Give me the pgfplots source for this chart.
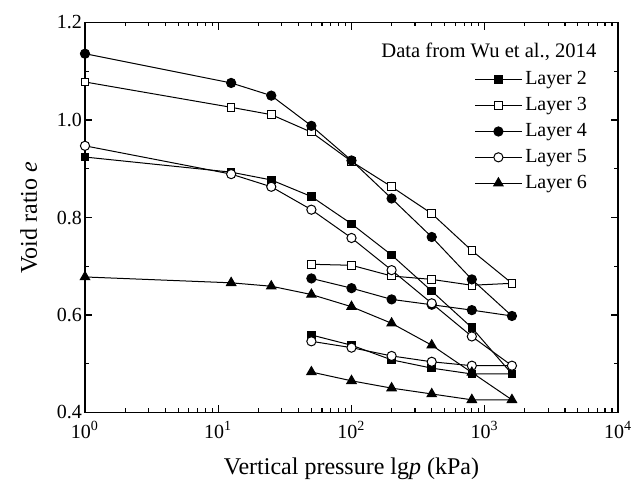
\documentclass[border=0pt]{standalone}
\usepackage{fontspec}
\setmainfont{Liberation Serif}
\usepackage{pgfplots}
\pgfplotsset{compat=1.18}

\begin{document}
\begin{tikzpicture}
\begin{axis}[
    scale only axis,
    width=266.5pt,
    height=195pt,
    xmode=log,
    xmin=1, xmax=10000,
    ymin=0.4, ymax=1.2,
    xtick={1,10,100,1000,10000},
    xticklabels={10\textsuperscript{0},10\textsuperscript{1},10\textsuperscript{2},10\textsuperscript{3},10\textsuperscript{4}},
    ytick={0.4,0.6,0.8,1.0,1.2},
    minor ytick={0.5,0.7,0.9,1.1},
    yticklabel style={xshift=2pt,/pgf/number format/.cd,fixed,fixed zerofill,precision=1,assume math mode=true},
    xticklabel style={yshift=-1pt},
    tick align=inside,
    major tick length=3.6pt,
    minor tick length=2pt,
    axis line style={line width=0.8pt},
    every tick/.style={black,line width=0.6pt},
    tick label style={font=\fontsize{10}{12}\selectfont},
    label style={font=\fontsize{12}{14}\selectfont},
    xlabel={Vertical pressure lg\textit{p} (kPa)},
    ylabel={Void ratio \textit{e}},
    xlabel style={yshift=-3pt},
    ylabel style={yshift=3pt},
    legend style={at={(axis description cs:0.948,0.883)}, anchor=north east,
        draw=none, fill=none, font=\fontsize{10}{12}\selectfont,
        row sep=1.85pt, inner sep=0pt, nodes={inner sep=1.5pt}},
    legend cell align=left,
    legend image code/.code={\draw[mark repeat=2,mark phase=2] plot coordinates {(0cm,0cm) (0.41cm,0cm) (0.82cm,0cm)};},
    every axis plot/.append style={black, line width=0.5pt},
]
\addplot[mark=square*, mark size=1.9pt, mark options={fill=black}] coordinates {
(1,0.924)(12.5,0.893)(25,0.877)(50,0.843)(100,0.787)(200,0.723)(400,0.649)(800,0.574)(1600,0.479)
(800,0.479)(400,0.491)(200,0.508)(100,0.538)(50,0.559)};
\addlegendentry{Layer 2}
\addplot[mark=square*, mark size=1.9pt, mark options={fill=white}] coordinates {
(1,1.078)(12.5,1.026)(25,1.011)(50,0.975)(100,0.915)(200,0.863)(400,0.808)(800,0.732)(1600,0.665)
(800,0.661)(400,0.673)(200,0.680)(100,0.702)(50,0.704)};
\addlegendentry{Layer 3}
\addplot[mark=*, mark size=2.3pt, mark options={fill=black}] coordinates {
(1,1.136)(12.5,1.076)(25,1.050)(50,0.988)(100,0.917)(200,0.839)(400,0.760)(800,0.673)(1600,0.598)
(800,0.610)(400,0.621)(200,0.632)(100,0.655)(50,0.675)};
\addlegendentry{Layer 4}
\addplot[mark=*, mark size=2.3pt, mark options={fill=white}] coordinates {
(1,0.947)(12.5,0.889)(25,0.863)(50,0.816)(100,0.758)(200,0.692)(400,0.624)(800,0.556)(1600,0.496)
(800,0.496)(400,0.504)(200,0.516)(100,0.533)(50,0.546)};
\addlegendentry{Layer 5}
\addplot[mark=triangle*, mark size=2.7pt, mark options={fill=black}] coordinates {
(1,0.678)(12.5,0.666)(25,0.659)(50,0.642)(100,0.617)(200,0.583)(400,0.538)(800,0.482)(1600,0.426)
(800,0.426)(400,0.438)(200,0.450)(100,0.465)(50,0.483)};
\addlegendentry{Layer 6}
\node[anchor=north east, font=\fontsize{10.3}{12}\selectfont, inner sep=0pt] at (axis description cs:0.96,0.948) {Data from Wu et al., 2014};
\end{axis}
\pgfresetboundingbox
\path[use as bounding box] ([shift={(-42.5pt,-33.5pt)}]current axis.south west) rectangle ([shift={(13pt,11.25pt)}]current axis.north east);
\end{tikzpicture}
\end{document}
